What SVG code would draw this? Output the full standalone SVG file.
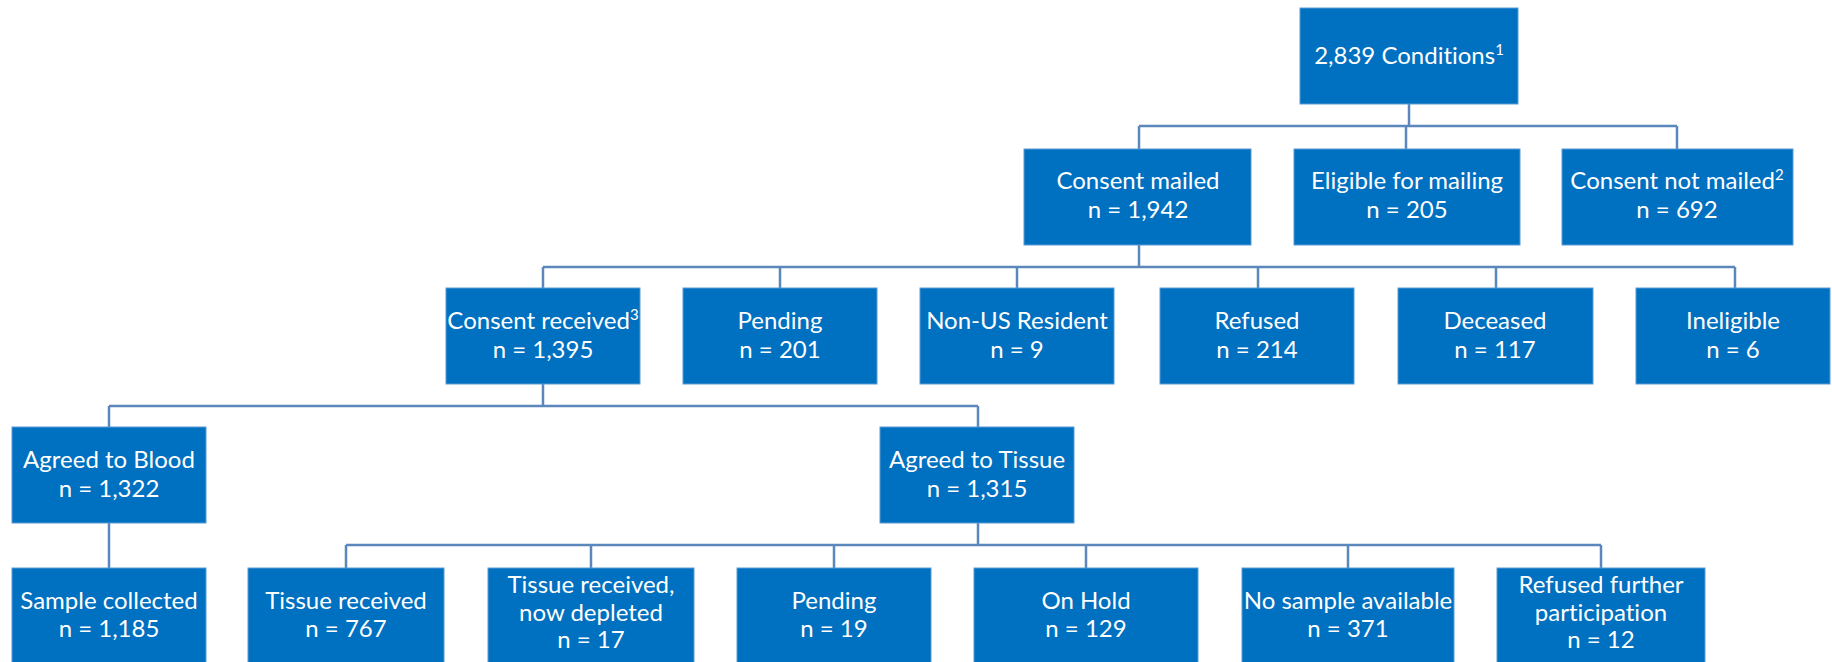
<svg xmlns="http://www.w3.org/2000/svg" width="1832" height="662" viewBox="0 0 1832 662">
<style>
.box{fill:#0070C0;stroke:#5B9BD5;stroke-width:1}
.t{font-family:Lato,"Open Sans","Liberation Sans",sans-serif;font-size:24px;fill:#FFFFFF;text-anchor:middle;font-variant-ligatures:none}
.sup{font-size:15px}
.c{fill:none;stroke:#5B87BD;stroke-width:2.5}
</style>
<rect width="1832" height="662" fill="#FFFFFF"/>
<g id="connectors">
<path class="c" d="M1409 104V126M1139 126H1677M1139 126V149M1406 126V149M1677 126V149"/>
<path class="c" d="M1139 245V267M543 267H1735M543 267V288M780 267V288M1017 267V288M1258 267V288M1496 267V288M1735 267V288"/>
<path class="c" d="M543 384V406M109 406H978M109 406V427M978 406V427"/>
<path class="c" d="M109 523V568"/>
<path class="c" d="M978 523V545M346 545H1601M346 545V568M591 545V568M834 545V568M1086 545V568M1348 545V568M1601 545V568"/>
</g>
<g id="n-root"><rect class="box" x="1300" y="8" width="218" height="96"/><text class="t" x="1409" y="64">2,839 Conditions<tspan class="sup" dy="-9">1</tspan></text></g>
<g id="n-mailed"><rect class="box" x="1024" y="149" width="227" height="96"/><text class="t" x="1138" y="189">Consent mailed</text><text class="t" x="1138" y="218">n = 1,942</text></g>
<g id="n-eligible"><rect class="box" x="1294" y="149" width="226" height="96"/><text class="t" x="1407" y="189">Eligible for mailing</text><text class="t" x="1407" y="218">n = 205</text></g>
<g id="n-notmailed"><rect class="box" x="1562" y="149" width="231" height="96"/><text class="t" x="1677" y="189">Consent not mailed<tspan class="sup" dy="-9">2</tspan></text><text class="t" x="1677" y="218">n = 692</text></g>
<g id="n-received"><rect class="box" x="446" y="288" width="194" height="96"/><text class="t" x="543" y="329">Consent received<tspan class="sup" dy="-9">3</tspan></text><text class="t" x="543" y="358">n = 1,395</text></g>
<g id="n-pending1"><rect class="box" x="683" y="288" width="194" height="96"/><text class="t" x="780" y="329">Pending</text><text class="t" x="780" y="358">n = 201</text></g>
<g id="n-nonus"><rect class="box" x="920" y="288" width="194" height="96"/><text class="t" x="1017" y="329">Non-US Resident</text><text class="t" x="1017" y="358">n = 9</text></g>
<g id="n-refused"><rect class="box" x="1160" y="288" width="194" height="96"/><text class="t" x="1257" y="329">Refused</text><text class="t" x="1257" y="358">n = 214</text></g>
<g id="n-deceased"><rect class="box" x="1398" y="288" width="195" height="96"/><text class="t" x="1495" y="329">Deceased</text><text class="t" x="1495" y="358">n = 117</text></g>
<g id="n-ineligible"><rect class="box" x="1636" y="288" width="194" height="96"/><text class="t" x="1733" y="329">Ineligible</text><text class="t" x="1733" y="358">n = 6</text></g>
<g id="n-blood"><rect class="box" x="12" y="427" width="194" height="96"/><text class="t" x="109" y="468">Agreed to Blood</text><text class="t" x="109" y="497">n = 1,322</text></g>
<g id="n-tissue"><rect class="box" x="880" y="427" width="194" height="96"/><text class="t" x="977" y="468">Agreed to Tissue</text><text class="t" x="977" y="497">n = 1,315</text></g>
<g id="n-sample"><rect class="box" x="12" y="568" width="194" height="100"/><text class="t" x="109" y="609">Sample collected</text><text class="t" x="109" y="637">n = 1,185</text></g>
<g id="n-treceived"><rect class="box" x="248" y="568" width="196" height="100"/><text class="t" x="346" y="609">Tissue received</text><text class="t" x="346" y="637">n = 767</text></g>
<g id="n-depleted"><rect class="box" x="488" y="568" width="206" height="100"/><text class="t" x="591" y="593">Tissue received,</text><text class="t" x="591" y="621">now depleted</text><text class="t" x="591" y="648">n = 17</text></g>
<g id="n-pending2"><rect class="box" x="737" y="568" width="194" height="100"/><text class="t" x="834" y="609">Pending</text><text class="t" x="834" y="637">n = 19</text></g>
<g id="n-onhold"><rect class="box" x="974" y="568" width="224" height="100"/><text class="t" x="1086" y="609">On Hold</text><text class="t" x="1086" y="637">n = 129</text></g>
<g id="n-nosample"><rect class="box" x="1242" y="568" width="212" height="100"/><text class="t" x="1348" y="609">No sample available</text><text class="t" x="1348" y="637">n = 371</text></g>
<g id="n-refusedfurther"><rect class="box" x="1497" y="568" width="208" height="100"/><text class="t" x="1601" y="593">Refused further</text><text class="t" x="1601" y="621">participation</text><text class="t" x="1601" y="648">n = 12</text></g>
</svg>
